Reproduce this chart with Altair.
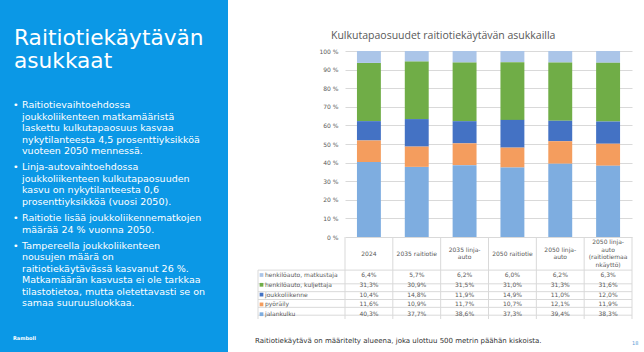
import altair as alt
import pandas as pd

categories = ["2024", "2035 raitiotie", "2035 linja-auto", "2050 raitiotie",
              "2050 linja-auto", "2050 linja-auto (raitiotiemaankäyttö)"]
header_labels = ["2024", "2035 raitiotie", "2035 linja-|auto", "2050 raitiotie",
                 "2050 linja-|auto", "2050 linja-|auto|(raitiotiemaa|nkäyttö)"]
modes = ["henkilöauto, matkustaja", "henkilöauto, kuljettaja", "joukkoliikenne",
         "pyöräily", "jalankulku"]
colors = ["#ABC5E8", "#70AD47", "#4472C4", "#F49D5E", "#7EADE0"]

matkustaja = [6.4, 5.7, 6.2, 6.0, 6.2, 6.3]
kuljettaja = [31.3, 30.9, 31.5, 31.0, 31.3, 31.6]
joukkoliikenne = [10.4, 14.8, 11.9, 14.9, 11.0, 12.0]
pyoraily = [11.6, 10.9, 11.7, 10.7, 12.1, 11.9]
jalankulku = [40.3, 37.7, 38.6, 37.3, 39.4, 38.3]

y_ticks = [0, 0.1, 0.2, 0.3, 0.4, 0.5, 0.6, 0.7, 0.8, 0.9, 1.0]

title_lines = ["Raitiotiekäytävän", "asukkaat"]
bullets = [
    ["Raitiotievaihtoehdossa", "joukkoliikenteen matkamääristä",
     "laskettu kulkutapaosuus kasvaa", "nykytilanteesta 4,5 prosenttiyksikköä",
     "vuoteen 2050 mennessä."],
    ["Linja-autovaihtoehdossa", "joukkoliikenteen kulkutapaosuuden",
     "kasvu on nykytilanteesta 0,6", "prosenttiyksikköä (vuosi 2050)."],
    ["Raitiotie lisää joukkoliikennematkojen", "määrää 24 % vuonna 2050."],
    ["Tampereella joukkoliikenteen", "nousujen määrä on",
     "raitiotiekäytävässä kasvanut 26 %.", "Matkamäärän kasvusta ei ole tarkkaa",
     "tilastotietoa, mutta oletettavasti se on", "samaa suuruusluokkaa."],
]
bullet_y = [57.3, 119.0, 170.0, 197.6]
chart_title = "Kulkutapaosuudet raitiotiekäytävän asukkailla"
footnote = "Raitiotiekäytävä on määritelty alueena, joka ulottuu 500 metrin päähän kiskoista."

W, H = 287, 186
step = W / len(categories)

series = [matkustaja, kuljettaja, joukkoliikenne, pyoraily, jalankulku]
rows = []
for mi, (m, vals) in enumerate(zip(modes, series)):
    for c, v in zip(categories, vals):
        rows.append({"category": c, "mode": m, "value": v, "stack_order": len(modes) - 1 - mi})
df = pd.DataFrame(rows)
cat_df = pd.DataFrame({"category": categories, "hdr": header_labels})
mode_df = pd.DataFrame({"mode": modes})

xscale = alt.Scale(domain=categories, paddingInner=0.5, paddingOuter=0.25)
X = alt.X("category:N", sort=categories, scale=xscale, axis=None)
row_scale = alt.Scale(domain=modes, range=[224, 263.2], padding=0)
Yrow = alt.Y("mode:N", scale=row_scale, axis=None)
FONT = "DejaVu Sans"
GRID = "#D9D9D9"
one = pd.DataFrame({"a": [0]})

bars = alt.Chart(df).mark_bar().encode(
    x=X,
    y=alt.Y("value:Q", stack="normalize", scale=alt.Scale(domain=[0, 1]),
            axis=alt.Axis(values=y_ticks, labelExpr="round(datum.value*100) + ' %'",
                          grid=True, gridColor=GRID, domain=False, ticks=False,
                          labelFontSize=6, labelColor="#595959", labelPadding=7,
                          labelFont=FONT, title=None)),
    color=alt.Color("mode:N", scale=alt.Scale(domain=modes, range=colors), legend=None),
    order=alt.Order("stack_order:Q"),
)

panel = alt.Chart(one).mark_rect(color="#0B98E6").encode(
    x=alt.value(-345), x2=alt.value(-117), y=alt.value(-51), y2=alt.value(301))

title_big = alt.Chart(one).mark_text(
    align="left", baseline="alphabetic", fontSize=21.7, font=FONT, color="white",
    lineHeight=23).encode(x=alt.value(-331), y=alt.value(-6), text=alt.value(title_lines))

bullet_layers = []
for lines, by in zip(bullets, bullet_y):
    bullet_layers.append(alt.Chart(one).mark_text(
        align="left", baseline="alphabetic", fontSize=9.5, font=FONT, color="white",
        lineHeight=11.5).encode(x=alt.value(-323), y=alt.value(by), text=alt.value(lines)))
    bullet_layers.append(alt.Chart(one).mark_text(
        align="left", baseline="alphabetic", fontSize=9.5, font=FONT, color="white"
    ).encode(x=alt.value(-332), y=alt.value(by), text=alt.value("•")))

ramboll = alt.Chart(one).mark_text(
    align="left", baseline="middle", fontSize=5, font=FONT, color="white", fontWeight="bold"
).encode(x=alt.value(-332), y=alt.value(287), text=alt.value("Ramboll"))

ctitle = alt.Chart(one).mark_text(
    align="left", baseline="middle", fontSize=10.5, font="Open Sans", color="#595959"
).encode(x=alt.value(-14), y=alt.value(-15), text=alt.value(chart_title))

foot = alt.Chart(one).mark_text(
    align="left", baseline="middle", fontSize=7.0, font=FONT, color="#333333"
).encode(x=alt.value(-90), y=alt.value(290), text=alt.value(footnote))

pagenum = alt.Chart(one).mark_text(
    align="left", baseline="middle", fontSize=5, font=FONT, color="#5B9BD5"
).encode(x=alt.value(287), y=alt.value(292), text=alt.value("18"))

# table grid
vlines = alt.Chart(cat_df).mark_rule(color=GRID, xOffset=-step / 2).encode(
    x=X, y=alt.value(H), y2=alt.value(268))
vlast = alt.Chart(one).mark_rule(color=GRID).encode(
    x=alt.value(W), y=alt.value(H), y2=alt.value(268))
vleft = alt.Chart(one).mark_rule(color=GRID).encode(
    x=alt.value(-87), y=alt.value(219.1), y2=alt.value(268))
hhead = alt.Chart(one).mark_rule(color=GRID).encode(
    x=alt.value(-87), x2=alt.value(W), y=alt.value(219.1))
hrows = alt.Chart(mode_df).mark_rule(color=GRID, yOffset=4.9).encode(
    y=Yrow, x=alt.value(-87), x2=alt.value(W))

header = alt.Chart(cat_df).transform_calculate(
    lines="split(datum.hdr, '|')"
).transform_calculate(
    ypos="202.5 - (length(datum.lines) - 1) * 3.85"
).mark_text(align="center", baseline="middle", fontSize=6, font=FONT,
            color="#595959", lineHeight=7.7).encode(
    x=X, y=alt.Y("ypos:Q", scale=None, axis=None), text="lines:N")

values = alt.Chart(df).transform_calculate(
    label="replace(format(datum.value, '.1f'), '.', ',') + '%'"
).mark_text(align="center", baseline="middle", fontSize=6, font=FONT,
            color="#595959").encode(x=X, y=Yrow, text="label:N")

row_labels = alt.Chart(mode_df).mark_text(
    align="left", baseline="middle", fontSize=6, font=FONT, color="#595959"
).encode(x=alt.value(-80), y=Yrow, text="mode:N")

swatches = alt.Chart(mode_df).mark_square(size=14, opacity=1).encode(
    x=alt.value(-83.5), y=Yrow,
    color=alt.Color("mode:N", scale=alt.Scale(domain=modes, range=colors), legend=None))

chart = alt.layer(
    panel, bars, vlines, vlast, vleft, hhead, hrows, header, values, row_labels, swatches,
    title_big, *bullet_layers, ramboll, ctitle, foot, pagenum
).resolve_scale(y="independent").properties(
    width=W, height=H,
    autosize=alt.AutoSizeParams(type="none"),
    padding={"left": 345, "top": 51, "right": 12, "bottom": 115},
    background="white",
).configure_view(stroke=None)

chart.save("out.html", embed_options={"renderer": "svg", "actions": False})
